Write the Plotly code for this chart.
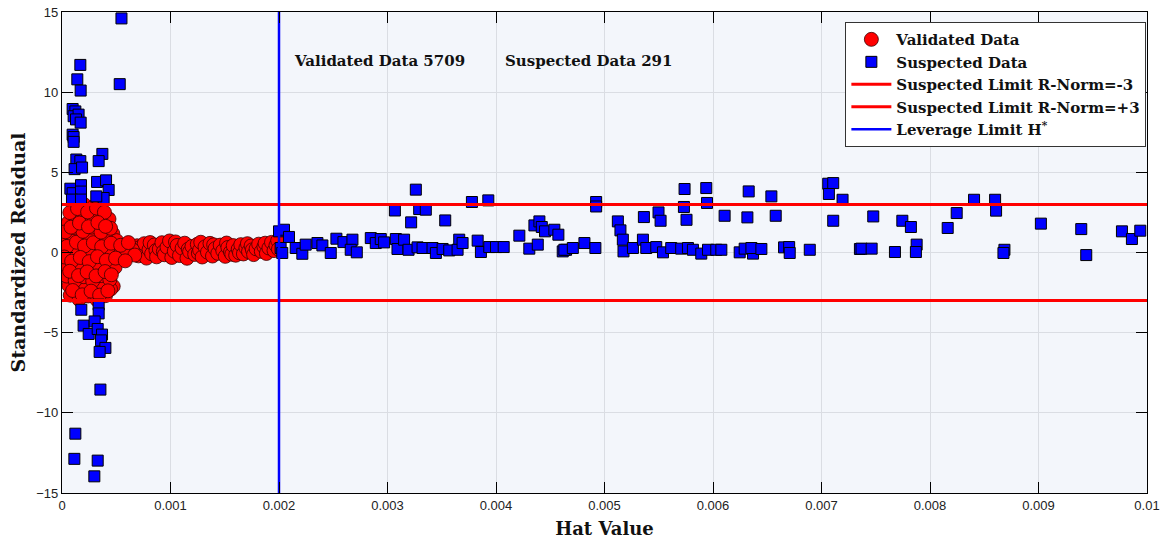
import plotly.graph_objects as go

# Validated data, dense region of low leverage (hat value, standardized residual)
cluster_hat = [
    0.000012, 0.000079, 0.000157, 0.000238, 0.000321, 0.000398, 0.000479, 0.000566, 0.000648,
    0.000095, 0.000178, 0.000262, 0.000352, 0.000412,
    0.000087, 0.000166, 0.000247, 0.000329, 0.000408, 0.000472,
    0.000066, 0.000148, 0.000226, 0.000309, 0.000384, 0.000468,
    0.000053, 0.000138, 0.000221, 0.000302, 0.000386, 0.000462,
    0.000118, 0.000205, 0.000287, 0.000330,
    0.000038, 0.000116, 0.000195, 0.000276, 0.000349, 0.000431, 0.000522, 0.000597, 0.000671,
    0.000063, 0.000141, 0.000219, 0.000301, 0.000381, 0.000447,
    0.000058, 0.000127, 0.000213, 0.000297, 0.000376, 0.000433,
    0.000019, 0.000097, 0.000171, 0.000257, 0.000338, 0.000421, 0.000503,
    0.000027, 0.000104, 0.000183, 0.000265, 0.000343, 0.000427, 0.000489,
    0.000072, 0.000143, 0.000236, 0.000318, 0.000391,
    0.000076, 0.000158, 0.000241, 0.000322, 0.000401,
    0.000045, 0.000133, 0.000208, 0.000289, 0.000366, 0.000452, 0.000541, 0.000612,
    0.000044, 0.000121, 0.000201, 0.000283, 0.000362, 0.000441,
    0.000031, 0.000109, 0.000192, 0.000273, 0.000359, 0.000447,
    0.000021, 0.000089, 0.000169, 0.000251, 0.000327, 0.000409, 0.000494, 0.000583,
    0.000098, 0.000186, 0.000268, 0.000347, 0.000423,
    0.000083, 0.000161, 0.000244, 0.000331, 0.000402,
    0.000071, 0.000152, 0.000232, 0.000314, 0.000397, 0.000455,
]
cluster_resid = [
    0.05, 0.31, 0.12, 0.38, 0.02, 0.27, 0.09, 0.33, 0.18,
    2.12, 2.45, 2.21, 2.48, 2.15,
    -1.72, -2.08, -1.81, -2.03, -1.76, -2.11,
    0.94, 1.27, 1.01, 1.22, 0.97, 1.18,
    -0.55, -0.86, -0.61, -0.88, -0.52, -0.79,
    2.71, 2.98, 2.83, 3.05,
    -0.24, 0.04, -0.19, 0.08, -0.27, 0.01, -0.22, 0.06, -0.16,
    -2.05, -2.38, -2.11, -2.34, -2.02, -2.29,
    1.86, 2.17, 1.91, 2.13, 1.84, 2.09,
    0.66, 0.93, 0.71, 0.96, 0.63, 0.89, 0.74,
    -0.87, -1.16, -0.91, -1.19, -0.85, -1.12, -0.93,
    2.49, 2.74, 2.53, 2.77, 2.51,
    -2.66, -2.93, -2.71, -2.95, -2.69,
    0.38, 0.64, 0.41, 0.61, 0.36, 0.58, 0.45, 0.62,
    -1.47, -1.74, -1.51, -1.77, -1.44, -1.69,
    1.29, 1.56, 1.32, 1.58, 1.27, 1.51,
    -0.28, -0.54, -0.31, -0.57, -0.26, -0.49, -0.35, -0.52,
    -2.37, -2.64, -2.41, -2.66, -2.39,
    1.58, 1.84, 1.61, 1.87, 1.63,
    -1.17, -1.44, -1.21, -1.46, -1.19, -1.39,
]

# Validated data, thin band up to the leverage limit
band_hat = [
    0.000692, 0.000705, 0.000716, 0.000731, 0.000758, 0.000779, 0.000802, 0.000812,
    0.000826, 0.000851, 0.000866, 0.000872, 0.000897, 0.000921, 0.000934, 0.000944,
    0.000968, 0.000991, 0.001012, 0.001035, 0.001046, 0.001061, 0.001083, 0.001107,
    0.001131, 0.001152, 0.001164, 0.001176, 0.001198, 0.001223, 0.001247, 0.001257,
    0.001269, 0.001279, 0.001292, 0.001318, 0.001341, 0.001364, 0.001387, 0.001398,
    0.001411, 0.001436, 0.001458, 0.001482, 0.001505, 0.001517, 0.001529, 0.001553,
    0.001565, 0.001578, 0.001601, 0.001624, 0.001636, 0.001648, 0.001672, 0.001695,
    0.001709, 0.001719, 0.001743, 0.001755, 0.001766, 0.001789, 0.001813, 0.001837,
    0.001861, 0.001872, 0.001884, 0.001907, 0.001931, 0.001954, 0.001972, 0.001988,
    0.001995,
]
band_resid = [
    0.42, -0.21, 0.31, 0.12, 0.55, -0.35, 0.18, 0.62,
    -0.08, 0.47, 0.12, -0.27, 0.22, 0.61, 0.05, -0.14,
    0.33, 0.72, -0.31, 0.08, 0.66, 0.44, -0.19, 0.27,
    0.58, -0.36, 0.21, 0.05, 0.38, -0.12, 0.51, -0.04,
    0.16, 0.64, -0.28, 0.35, 0.02, 0.57, -0.22, 0.48,
    0.24, -0.05, 0.46, 0.11, -0.24, 0.59, 0.31, 0.03,
    -0.11, 0.43, -0.17, 0.21, -0.02, 0.49, -0.09, 0.29,
    0.55, 0.06, 0.41, 0.17, -0.13, 0.23, 0.52, 0.07,
    0.36, 0.58, -0.06, 0.28, 0.63, 0.12, 0.45, 0.74,
    0.21,
]

# Suspected data (outliers and high-leverage points)
suspected_hat = [
    0.000548, 0.000532, 0.000169, 0.000141, 0.000172,
    0.000098, 0.000123, 0.000107, 0.000153, 0.000129, 0.000172,
    0.000098, 0.000107, 0.000107,
    0.000132, 0.000169, 0.000116, 0.000185, 0.000372, 0.000338,
    0.000077, 0.000175, 0.000098, 0.000175, 0.000323, 0.000406, 0.000430,
    0.000092, 0.000175, 0.000384, 0.000316,
    0.000178, 0.000338, 0.000338, 0.000199, 0.000246,
    0.000301, 0.000329, 0.000369, 0.000360, 0.000400, 0.000347,
    0.000354, 0.000123, 0.000114, 0.000329, 0.000298,
    0.002000, 0.002046, 0.002092, 0.002015, 0.002030, 0.002154, 0.002215,
    0.002246, 0.002354, 0.002400, 0.002477, 0.002529, 0.002594, 0.002677,
    0.002661, 0.002717, 0.002846, 0.002892, 0.002938, 0.002969, 0.003068,
    0.003077, 0.003092, 0.003153, 0.003194, 0.003218, 0.003261, 0.003292,
    0.003353, 0.003277, 0.003323, 0.003415, 0.003446, 0.003508, 0.003569,
    0.003661, 0.003646, 0.003692, 0.003532, 0.003778, 0.003929, 0.003831,
    0.003861, 0.003938, 0.004000, 0.004071, 0.004215, 0.004307, 0.004385,
    0.004354, 0.004400, 0.004422, 0.004452, 0.004538, 0.004575, 0.004615,
    0.004646, 0.004630, 0.004708, 0.004815, 0.004916, 0.004923, 0.004923,
    0.005123, 0.005147, 0.005169, 0.005175, 0.005262, 0.005354, 0.005385,
    0.005477, 0.005539, 0.005363, 0.005498, 0.005517, 0.005615, 0.005707,
    0.005769, 0.005815, 0.005892, 0.005954, 0.006030, 0.006077, 0.005738,
    0.005732, 0.005756, 0.005938, 0.005945, 0.006107, 0.006246, 0.006292,
    0.006369, 0.006354, 0.006446, 0.006317, 0.006329, 0.006538, 0.006578,
    0.006655, 0.006702, 0.006707, 0.006892, 0.007062, 0.007108, 0.007068,
    0.007194, 0.007108, 0.007354, 0.007369, 0.007462, 0.007477, 0.007677,
    0.007745, 0.007824, 0.007877, 0.007870, 0.008163, 0.008246, 0.008406,
    0.008600, 0.008609, 0.008686, 0.008677, 0.009022, 0.009394, 0.009440,
    0.009769, 0.009861, 0.009938,
]
suspected_resid = [
    14.6, 10.5, 11.7, 10.8, 10.1,
    8.95, 8.8, 8.5, 8.6, 8.3, 8.1,
    7.35, 7.2, 6.9,
    5.8, 5.7, 5.2, 5.3, 6.15, 5.7,
    3.98, 4.2, 3.7, 3.8, 4.4, 4.5, 3.9,
    3.3, 3.3, 3.4, 3.5,
    -3.57, -3.25, -3.8, -4.56, -5.08,
    -4.3, -4.77, -5.12, -5.48, -5.95, -6.2,
    -8.55, -11.3, -12.87, -12.98, -13.96,
    1.32, 1.42, 0.97, 0.28, -0.03, 0.28, -0.08,
    0.49, 0.59, 0.44, -0.03, 0.86, 0.65, 0.80,
    0.17, 0.01, 0.90, 0.59, 0.84, 0.63, 2.62,
    0.84, 0.22, 0.80, 0.17, 1.88, 3.92, 2.71,
    2.67, 0.32, 0.28, 0.28, -0.03, 0.22, 0.13,
    0.80, 0.17, 0.59, 2.00, 3.15, 3.25, 0.74,
    0.03, 0.34, 0.34, 0.34, 1.05, 0.24, 0.49,
    1.69, 1.94, 1.59, 1.32, 1.42, 1.11, 0.07,
    0.17, 0.17, 0.28, 0.59, 0.28, 3.15, 2.87,
    1.94, 1.38, 0.80, 0.07, 0.28, 0.80, 0.28,
    0.34, 0.01, 2.21, 2.50, 1.98, 0.28, 0.24,
    0.28, 0.17, -0.07, 0.17, 0.17, 0.17, 3.96,
    2.84, 2.04, 4.02, 3.09, 2.29, 0.01, 0.24,
    -0.07, 0.28, 0.22, 2.19, 3.81, 3.50, 2.29,
    0.32, 0.34, -0.03, 0.17, 4.29, 4.33, 3.65,
    3.29, 1.98, 0.22, 0.24, 0.24, 2.25, 0.03,
    1.98, 1.59, 0.49, 0.03, 1.53, 2.46, 3.29,
    3.29, 2.61, 0.17, -0.03, 1.80, 1.46, -0.16,
    1.32, 0.84, 1.36,
]

# Limits and axis ranges
r_norm_limit = 3
leverage_limit = 0.002
x_range = [0, 0.01]
y_range = [-15, 15]
x_ticks = [0, 0.001, 0.002, 0.003, 0.004, 0.005, 0.006, 0.007, 0.008, 0.009, 0.01]
x_tick_labels = ["0", "0.001", "0.002", "0.003", "0.004", "0.005",
                 "0.006", "0.007", "0.008", "0.009", "0.01"]
y_ticks = [-15, -10, -5, 0, 5, 10, 15]
n_validated = 5709
n_suspected = 291

SERIF = "DejaVu Serif"
SANS = "Liberation Sans"
INK = "#111111"

fig = go.Figure()

fig.add_trace(go.Scatter(
    x=band_hat + cluster_hat, y=band_resid + cluster_resid, mode="markers",
    name="<b>Validated Data</b>",
    marker=dict(symbol="circle", size=14, color="#FF0000",
                line=dict(color="#3a0000", width=0.8)),
))
fig.add_trace(go.Scatter(
    x=suspected_hat, y=suspected_resid, mode="markers", name="<b>Suspected Data</b>",
    marker=dict(symbol="square", size=11, color="#0000FF",
                line=dict(color="#000000", width=1)),
))
fig.add_trace(go.Scatter(
    x=x_range, y=[-r_norm_limit, -r_norm_limit], mode="lines",
    name="<b>Suspected Limit R-Norm=-3</b>", line=dict(color="#FF0000", width=3),
))
fig.add_trace(go.Scatter(
    x=x_range, y=[r_norm_limit, r_norm_limit], mode="lines",
    name="<b>Suspected Limit R-Norm=+3</b>", line=dict(color="#FF0000", width=3),
))
fig.add_trace(go.Scatter(
    x=[leverage_limit, leverage_limit], y=y_range, mode="lines",
    name="<b>Leverage Limit H<sup>*</sup></b>", line=dict(color="#0000FF", width=2.5),
))

fig.add_annotation(x=0.00212, y=11.95, xref="x", yref="y", xanchor="left",
                   text=f"<b>Validated Data {n_validated}</b>", showarrow=False,
                   font=dict(family=SERIF, size=15, color=INK))
fig.add_annotation(x=0.00406, y=11.95, xref="x", yref="y", xanchor="left",
                   text=f"<b>Suspected Data {n_suspected}</b>", showarrow=False,
                   font=dict(family=SERIF, size=15, color=INK))

axis_common = dict(
    showline=True, linecolor="black", linewidth=1.2, mirror="ticks",
    ticks="inside", ticklen=11, tickcolor="black", tickwidth=1,
    showgrid=True, gridcolor="#DADDE3", gridwidth=1, zeroline=False,
    tickfont=dict(family=SANS, size=13, color="#222222"),
    automargin=False,
)

fig.update_xaxes(range=x_range, tickvals=x_ticks, ticktext=x_tick_labels,
                 title=dict(text="<b>Hat Value</b>", standoff=10,
                            font=dict(family=SERIF, size=18, color=INK)),
                 **axis_common)
fig.update_yaxes(range=y_range, tickvals=y_ticks,
                 title=dict(text="<b>Standardized Residual</b>", standoff=5,
                            font=dict(family=SERIF, size=19, color=INK)),
                 **axis_common)

fig.update_layout(
    width=1163, height=540,
    margin=dict(l=62, r=16, t=12, b=47),
    paper_bgcolor="white", plot_bgcolor="#F3F6FB",
    showlegend=True,
    legend=dict(x=0.722, y=0.979, xanchor="left", yanchor="top",
                bgcolor="white", bordercolor="#333333", borderwidth=1,
                font=dict(family=SERIF, size=15, color=INK),
                tracegroupgap=0, itemwidth=40),
)

fig.write_html("out.html")
